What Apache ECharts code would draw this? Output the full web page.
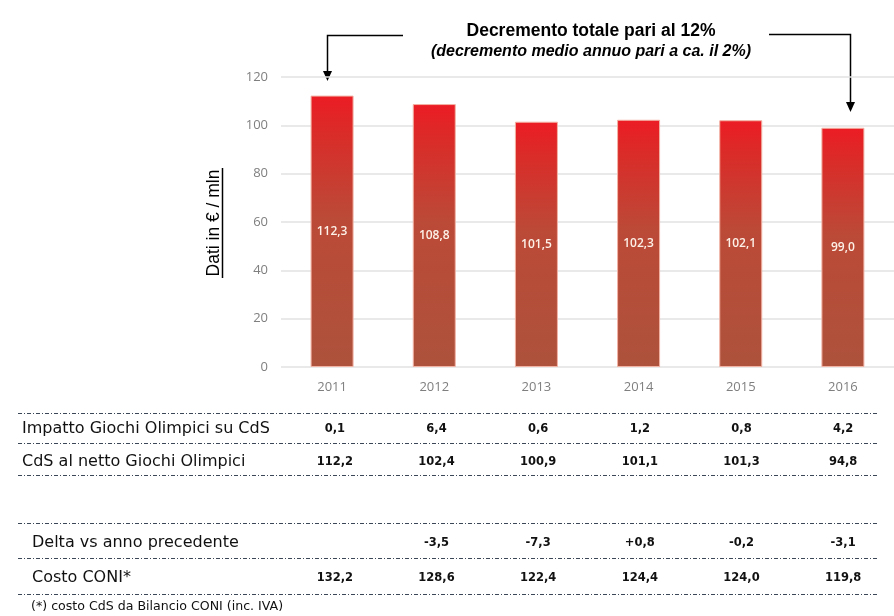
<!DOCTYPE html>
<html lang="it">
  <head>
    <meta charset="UTF-8" />
    <title>Costo CdS</title>
    <style>
      * { margin: 0; padding: 0; }
      html, body { width: 100%; height: 100%; background: #fff; }
      #chart { width: 894px; height: 616px; }
    </style>
    <script src="https://cdn.jsdelivr.net/npm/echarts@6/dist/echarts.min.js"></script>
  </head>
  <body>
    <div id="chart"></div>
    <script>
      // dati
      var years = ["2011", "2012", "2013", "2014", "2015", "2016"];
      var cdsValues = [112.3, 108.8, 101.5, 102.3, 102.1, 99.0];
      var yMin = 0, yMax = 120, yStep = 20;

      var rowLabels = [
        "Impatto Giochi Olimpici su CdS",
        "CdS al netto Giochi Olimpici",
        "Delta vs anno precedente",
        "Costo CONI*",
      ];
      var impattoValues = ["0,1", "6,4", "0,6", "1,2", "0,8", "4,2"];
      var nettoValues = ["112,2", "102,4", "100,9", "101,1", "101,3", "94,8"];
      var deltaValues = ["", "-3,5", "-7,3", "+0,8", "-0,2", "-3,1"];
      var costoValues = ["132,2", "128,6", "122,4", "124,4", "124,0", "119,8"];

      var titleText = "Decremento totale pari al 12%";
      var subText = "(decremento medio annuo pari a ca. il 2%)";
      var yName = "Dati in € / mln";
      var footnote = "(*) costo CdS da Bilancio CONI (inc. IVA)";

      var fmt = function (v) {
        return v.toFixed(1).replace(".", ",");
      };

      // righe della tabella come assi categoria sotto il grafico
      var tableRows = [
        { name: rowLabels[0], values: impattoValues, offset: 62, nameX: 22 },
        { name: rowLabels[1], values: nettoValues, offset: 95, nameX: 22 },
        { name: rowLabels[2], values: deltaValues, offset: 176, nameX: 32 },
        { name: rowLabels[3], values: costoValues, offset: 211, nameX: 32 },
      ];
      var tableLeft = 284;
      var tableAxes = tableRows.map(function (row) {
        return {
          type: "category",
          gridIndex: 1,
          position: "bottom",
          offset: row.offset,
          data: years,
          boundaryGap: true,
          axisLine: { show: false, onZero: false },
          axisTick: { show: false },
          axisLabel: {
            margin: 0,
            verticalAlign: "middle",
            fontFamily: "DejaVu Sans",
            fontSize: 11.5,
            fontWeight: "bold",
            color: "#111",
            formatter: function (v, i) {
              return row.values[i];
            },
          },
          name: row.name,
          nameLocation: "start",
          nameGap: tableLeft - row.nameX,
          nameMoveOverlap: false,
          nameTextStyle: {
            align: "left",
            verticalAlign: "middle",
            fontFamily: "DejaVu Sans",
            fontSize: 16,
            color: "#111",
          },
        };
      });

      // linee tratteggiate della tabella
      var ruleYs = [413, 443, 475, 523, 558, 594];
      var rules = ruleYs.map(function (y) {
        return {
          type: "line",
          shape: { x1: 18, y1: y + 0.5, x2: 877, y2: y + 0.5 },
          style: { stroke: "#3b4656", lineWidth: 1, lineDash: [4, 2, 1, 2] },
          silent: true,
        };
      });

      var barColor = new echarts.graphic.LinearGradient(0, 0, 0, 1, [
        { offset: 0, color: "#ec1c25" },
        { offset: 0.12, color: "#dc2a28" },
        { offset: 0.45, color: "#bb4a37" },
        { offset: 1, color: "#ad523c" },
      ]);

      var option = {
        backgroundColor: "#ffffff",
        animation: false,
        title: {
          text: titleText,
          subtext: subText,
          left: 586,
          top: 17,
          textAlign: "center",
          itemGap: 4,
          textStyle: {
            fontFamily: "Liberation Sans",
            fontWeight: "bold",
            fontSize: 17.5,
            color: "#000",
          },
          subtextStyle: {
            fontFamily: "Liberation Sans",
            fontWeight: "bold",
            fontStyle: "italic",
            fontSize: 16,
            color: "#000",
          },
        },
        grid: [
          { left: 281, top: 77, width: 618, height: 290 },
          { left: tableLeft, top: 77, width: 622, height: 290 },
        ],
        xAxis: [
          {
            type: "category",
            gridIndex: 0,
            data: years,
            axisLine: { show: false },
            axisTick: { show: false },
            axisLabel: {
              margin: 14,
              fontFamily: "Open Sans",
              fontSize: 13,
              color: "#7f7f7f",
            },
          },
        ].concat(tableAxes),
        yAxis: [
          {
            type: "value",
            gridIndex: 0,
            min: yMin,
            max: yMax,
            interval: yStep,
            axisLine: { show: false },
            axisTick: { show: false },
            axisLabel: {
              margin: 13,
              fontFamily: "Open Sans",
              fontSize: 13,
              color: "#7f7f7f",
            },
            splitLine: { lineStyle: { color: "#e2e2e2", width: 1.5 } },
          },
          { type: "value", gridIndex: 1, show: false, min: yMin, max: yMax },
        ],
        series: [
          {
            type: "bar",
            xAxisIndex: 0,
            yAxisIndex: 0,
            data: cdsValues,
            barWidth: 43,
            itemStyle: {
              color: barColor,
              borderColor: "#f2b2a4",
              borderWidth: 1,
            },
            label: {
              show: true,
              position: "inside",
              fontFamily: "Open Sans",
              fontSize: 12,
              fontWeight: 600,
              color: "#fdf1e8",
              formatter: function (p) {
                return fmt(p.value);
              },
            },
          },
        ],
        graphic: [
          // nome asse y sottolineato
          {
            type: "group",
            x: 214,
            y: 223,
            rotation: Math.PI / 2,
            children: [
              {
                type: "text",
                style: {
                  text: yName,
                  x: 0,
                  y: 0,
                  align: "center",
                  verticalAlign: "middle",
                  font: "17.5px Liberation Sans",
                  fill: "#000",
                },
              },
              {
                type: "line",
                shape: { x1: -55, y1: 8.5, x2: 55, y2: 8.5 },
                style: { stroke: "#000", lineWidth: 1.5 },
              },
            ],
          },
          // frecce
          {
            type: "polyline",
            shape: { points: [[403, 35.5], [327.5, 35.5], [327.5, 72]] },
            style: { stroke: "#000", lineWidth: 1.5, fill: null },
          },
          {
            type: "polygon",
            shape: { points: [[323, 71], [332, 71], [327.5, 81]] },
            style: { fill: "#000" },
          },
          {
            type: "polyline",
            shape: { points: [[769, 34.5], [850.5, 34.5], [850.5, 103]] },
            style: { stroke: "#000", lineWidth: 1.5, fill: null },
          },
          {
            type: "polygon",
            shape: { points: [[846, 102], [855, 102], [850.5, 112]] },
            style: { fill: "#000" },
          },
          {
            type: "text",
            style: {
              text: footnote,
              x: 31,
              y: 607,
              verticalAlign: "middle",
              font: "12.6px DejaVu Sans",
              fill: "#111",
            },
          },
        ].concat(rules),
      };

      var myChart = echarts.init(document.getElementById("chart"));
      myChart.setOption(option);
    </script>
  </body>
</html>
